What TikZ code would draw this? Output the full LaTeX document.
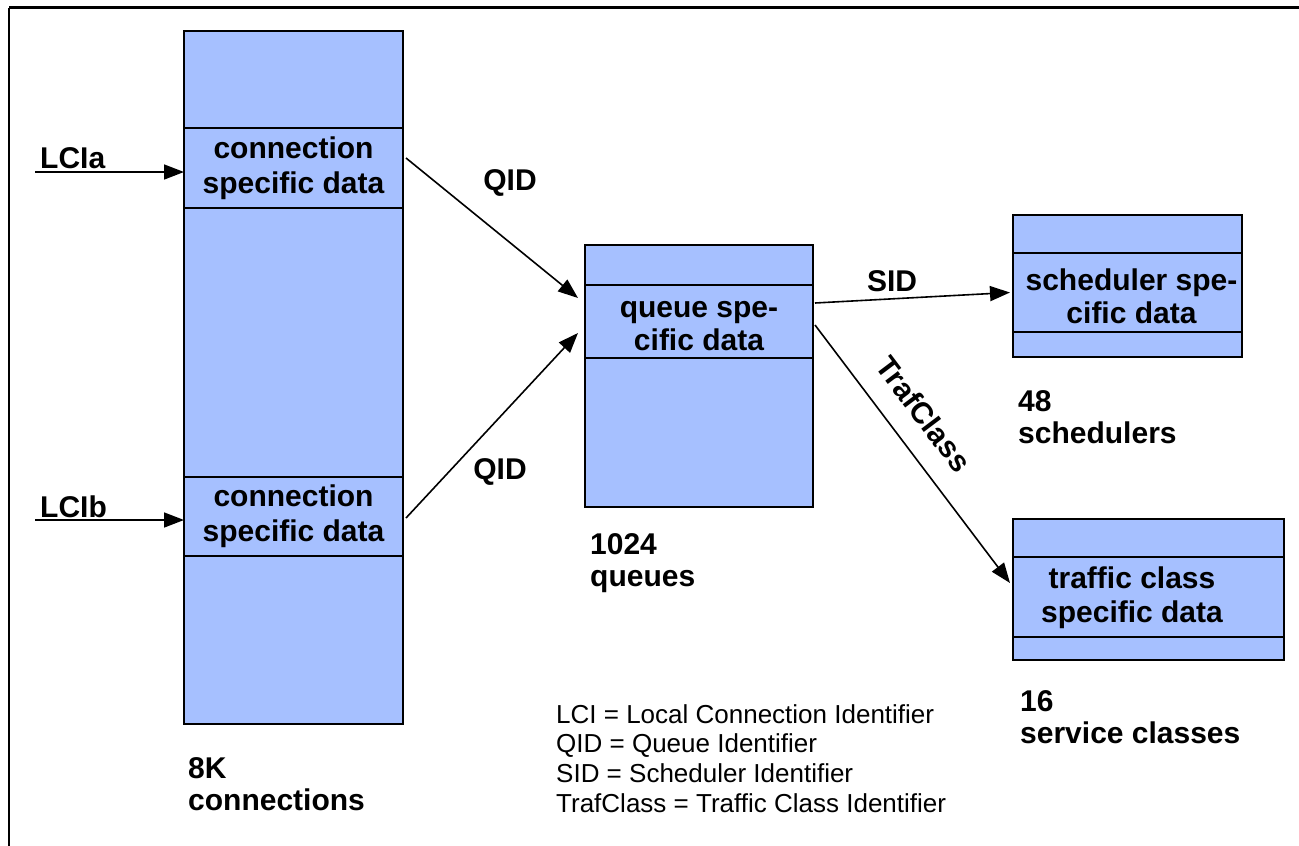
\documentclass[tikz,border=0pt]{standalone}
\usepackage{fontspec}
\setmainfont{Liberation Sans}
\usetikzlibrary{arrows.meta}
\definecolor{boxblue}{RGB}{166,192,255}
\tikzset{
  box/.style={draw=black, line width=2pt, fill=boxblue, inner sep=0pt, outer sep=0pt},
  sec/.style={box, font=\bfseries\fontsize{30}{35}\selectfont, align=center},
  lbl/.style={font=\bfseries\fontsize{30}{32}\selectfont, inner sep=0pt},
  cnt/.style={lbl, align=left, anchor=west},
  arr/.style={line width=1.6pt, -{Triangle[length=20pt,width=15pt]}},
}
\begin{document}
\begin{tikzpicture}[x=1pt,y=-1pt]
\useasboundingbox (0,0) rectangle (1299,846);
\fill[white] (0,0) rectangle (1299,846);
% frame
\draw[line width=2.5pt] (9,7.5) -- (1299,7.5);
\draw[line width=1.5pt] (9,7.5) -- (9,846);
% left column
\node[box, minimum width=219pt, minimum height=693pt] (cbox) at (293.5,377.5) {};
\node[sec, minimum width=219pt, minimum height=80pt] (secA) at (293.5,168) {connection\\specific data};
\node[sec, minimum width=219pt, minimum height=79pt] (secB) at (293.5,516.5) {connection\\specific data};
% queue
\node[box, minimum width=228pt, minimum height=262pt] (qbox) at (699,376) {};
\node[sec, minimum width=228pt, minimum height=73pt] (qsec) at (699,321.5) {};
\node[lbl, align=center, font=\bfseries\fontsize{30}{33}\selectfont] (qtxt) at (699,326) {queue spe-\\cific data};
% scheduler
\node[box, minimum width=229pt, minimum height=142pt] (sbox) at (1127.5,286) {};
\node[sec, minimum width=229pt, minimum height=79pt] (ssec) at (1127.5,292.5) {};
\node[lbl, align=center, font=\bfseries\fontsize{30}{33}\selectfont] (stxt) at (1131.5,296) {scheduler spe-\\cific data};
% traffic class
\node[box, minimum width=271pt, minimum height=141pt] (tbox) at (1148.5,589.5) {};
\node[sec, minimum width=271pt, minimum height=80pt] (tsec) at (1148.5,597) {};
\node[lbl, align=center, font=\bfseries\fontsize{30}{34}\selectfont] (ttxt) at (1132,598) {traffic class\\specific data};
% inputs
\coordinate (la) at (35,172);
\coordinate (lb) at (35,520);
\node[lbl, anchor=west] (lciA) at (40,158) {LCIa};
\node[lbl, anchor=west] (lciB) at (40,507) {LCIb};
\draw[arr] (la) -- (la -| secA.west);
\draw[arr] (lb) -- (lb -| secB.west);
% connectors
\draw[arr] ([xshift=3pt,yshift=10pt]secA.east) -- ([xshift=-7pt,yshift=23.5pt]qsec.west);
\draw[arr] ([xshift=3pt,yshift=-1.5pt]secB.east) -- ([xshift=-7pt,yshift=-11.5pt]qsec.west);
\draw[arr] ([xshift=2pt,yshift=18.5pt]qsec.east) -- ([xshift=-3pt]ssec.west);
\draw[arr] ([xshift=2pt,yshift=-3.5pt]qsec.east) -- ([xshift=-3pt,yshift=14pt]tsec.west);
\node[lbl] (qid1) at (510,183) {QID};
\node[lbl] (qid2) at (500,472) {QID};
\node[lbl] (sid) at (892,281) {SID};
\node[lbl, rotate=-53] (tc) at (924,414) {TrafClass};
% counts
\node[cnt] (n8k) at (188,784) {8K\\connections};
\node[cnt] (n1024) at (590,563) {1024\\queues};
\node[cnt] (n48) at (1018,417) {48\\schedulers};
\node[cnt] (n16) at (1020,717) {16\\service classes};
% legend
\node[font=\fontsize{26}{29.7}\selectfont, align=left, anchor=west, inner sep=0pt] (legend) at (556,758.5) {LCI = Local Connection Identifier\\QID = Queue Identifier\\SID = Scheduler Identifier\\TrafClass = Traffic Class Identifier};
\end{tikzpicture}
\end{document}
